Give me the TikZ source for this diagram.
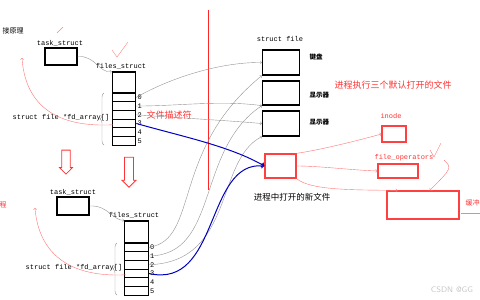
\documentclass[tikz,border=0pt]{standalone}
\usepackage{fontspec}
\setmonofont{Liberation Mono}
\newfontfamily\cjk{Noto Sans CJK SC}
\usetikzlibrary{arrows, math, shapes.arrows, decorations.pathreplacing}

\begin{document}
\begin{tikzpicture}[x=1pt, y=-1pt, font=\ttfamily\fontsize{7}{8}\selectfont,
    box/.style={draw, line width=1.3pt, rectangle, inner sep=0pt},
    redbox/.style={draw=red!75, line width=1.3pt, rectangle, inner sep=0pt},
    cell/.style={draw, line width=1.1pt, rectangle, inner sep=0pt, minimum width=23.5pt, minimum height=8.7pt},
    grayline/.style={gray!85, thin, ->},
    blueline/.style={blue!75!black, line width=1pt, ->},
    redline/.style={red!55, thin, ->}]
    \useasboundingbox (0,0) rectangle (480,300);
    \tikzmath{\xUp = 124; \yUp = 93; \xLo = 136.5; \yLo = 243; \hC = 8.7;}

    % left: task_struct / files_struct
    \node[anchor=west, font=\cjk\fontsize{7}{8}\selectfont](title) at (-1,31) {接原理};
    \node(task-up-lbl) at (60,43) {task\_struct};
    \node[box, minimum width=32pt, minimum height=17pt](task-up) at (61,56.5) {};
    \node(files-up-lbl) at (121,66) {files\_struct};
    \node[cell, minimum height=21pt](top-up) at (\xUp,\yUp-10.5) {};
    \foreach \i in {0,...,5} {
        \node[cell](up\i) at (\xUp,\yUp+\hC*\i+\hC/2) {};
        \node[anchor=west, inner sep=1pt](upn\i) at (up\i.east) {\i};
    }
    \node(fd-up) at (61,118) {struct file *fd\_array[]};
    \draw[gray!80, decorate, decoration={brace, amplitude=4pt, mirror}] (104,93) -- (104,145);
    \draw[grayline] (task-up.east) .. controls (95,55) and (100,74) .. (top-up.north west);

    \node[single arrow, draw=red!80, thick, minimum height=24pt, minimum width=13pt, single arrow head extend=2pt, shape border rotate=270](down-a) at (66,160) {};
    \node[single arrow, draw=red!80, thick, minimum height=30pt, minimum width=14pt, single arrow head extend=2pt, shape border rotate=270](down-b) at (129,170) {};

    \node(task-lo-lbl) at (73,192) {task\_struct};
    \node[box, minimum width=32pt, minimum height=18pt](task-lo) at (73,206) {};
    \node(files-lo-lbl) at (134,215) {files\_struct};
    \node[cell, minimum height=22pt](top-lo) at (\xLo,\yLo-11) {};
    \foreach \i in {0,...,5} {
        \node[cell](lo\i) at (\xLo,\yLo+\hC*\i+\hC/2) {};
        \node[anchor=west, inner sep=1pt](lon\i) at (lo\i.east) {\i};
    }
    \node(fd-lo) at (74,268) {struct file *fd\_array[]};
    \draw[gray!80, decorate, decoration={brace, amplitude=4pt, mirror}] (117,243) -- (117,295);
    \draw[grayline] (task-lo.east) .. controls (108,205) and (112,220) .. (top-lo.north west);

    % red remarks on the left
    \node[text=red!80, font=\cjk\fontsize{7}{8}\selectfont](cheng) at (3,205) {程};
    \coordinate (ptr-up) at (22,58);
    \coordinate (ptr-lo) at (35,208);
    \draw[redline] (fd-up.south east) .. controls (50,128) and (25,100) .. (ptr-up);
    \draw[redline] (fd-lo.south east) .. controls (60,278) and (38,245) .. (ptr-lo);
    \draw[red!50] (57,33) -- (63,27);
    \draw[red!50] (112,50) -- (117,57) -- (128,42);
    \node[text=red!80, font=\cjk\fontsize{9}{10}\selectfont](fd-name) at (169,115) {文件描述符};

    \coordinate (div-top) at (208,10);
    \coordinate (div-bot) at (208,190);
    \draw[red!85, line width=1pt] (div-top) -- (div-bot);

    % right: struct file
    \node(sf-lbl) at (280,39) {struct file};
    \node[box, minimum width=37pt, minimum height=25pt](kbd) at (281,62.5) {};
    \node[box, minimum width=37pt, minimum height=24pt](scr-a) at (281,93) {};
    \node[box, minimum width=37pt, minimum height=25pt](scr-b) at (281,123.5) {};
    \node[anchor=west, font=\cjk\bfseries\fontsize{6.5}{7}\selectfont](kbd-lbl) at (306,57) {键盘};
    \node[anchor=west, font=\cjk\bfseries\fontsize{6.5}{7}\selectfont](scr-a-lbl) at (306,95) {显示器};
    \node[anchor=west, font=\cjk\bfseries\fontsize{6.5}{7}\selectfont](scr-b-lbl) at (306,122) {显示器};
    \node[text=red!80, font=\cjk\fontsize{9}{10}\selectfont](dflt) at (393,85) {进程执行三个默认打开的文件};

    \draw[grayline] (up0.east) .. controls (170,78) and (220,62) .. (kbd.west);
    \draw[grayline] (up1.east) .. controls (180,106) and (220,100) .. (scr-a.south west);
    \draw[grayline] (up2.east) .. controls (180,118) and (220,120) .. (scr-b.west);
    \draw[grayline] (lo0.east) .. controls (200,240) and (170,150) .. (kbd.south west);
    \draw[grayline] (lo1.east) .. controls (220,255) and (195,150) .. (scr-a.south west);
    \draw[grayline] (lo2.east) .. controls (235,262) and (215,160) .. (scr-b.south west);

    % new file and its links
    \node[redbox, minimum width=31pt, minimum height=24pt](newf) at (280.5,166) {};
    \node[font=\cjk\fontsize{8.5}{9}\selectfont](newf-lbl) at (292,197) {进程中打开的新文件};
    \draw[blueline] (up3.east) .. controls (180,136) and (230,146) .. (newf.west);
    \draw[blueline] (lo3.east) .. controls (220,290) and (205,160) .. (newf.west);

    \node[text=red!80](inode-lbl) at (391,116) {inode};
    \node[redbox, minimum width=24pt, minimum height=16pt](inode) at (394,134) {};
    \node[text=red!80](fops-lbl) at (404,158) {file\_operators};
    \node[redbox, minimum width=40pt, minimum height=14pt](fops) at (398,171) {};
    \node[redbox, minimum width=72pt, minimum height=28pt](buf) at (423,205) {};
    \node[anchor=west, text=red!80, font=\cjk\fontsize{7}{8}\selectfont](buf-lbl) at (462,203) {缓冲};
    \coordinate (buf-l) at (461,213);
    \coordinate (buf-r) at (480,213);
    \draw[red!50] (buf-l) -- (buf-r);

    \draw[redline] (newf.north east) .. controls (320,150) and (360,140) .. (inode.west);
    \draw[redline] (newf.east) .. controls (320,166) and (350,170) .. (fops.west);
    \draw[redline] (newf.south east) .. controls (310,190) and (350,190) .. (buf.150);
    \coordinate (chk-end) at (444,160);
    \draw[red!55] (430,150) -- (434,157) -- (441,143);
    \draw[redline] (chk-end) .. controls (452,168) .. (buf.65);

    \node[text=gray!45, font=\sffamily\fontsize{8}{9}\selectfont](wm) at (452,290) {CSDN @GG};
\end{tikzpicture}
\end{document}
